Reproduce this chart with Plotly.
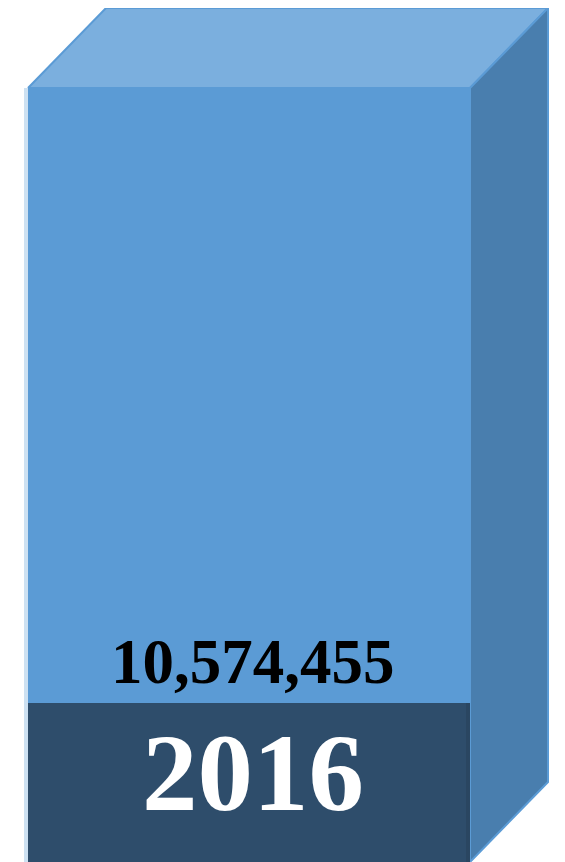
import plotly.graph_objects as go

# ---- data ----
years = ["2016"]
values = [10574455]

# ---- style constants ----
W, H = 565, 862
OFF = 8  # page body margin in the browser
FRONT = "#5B9BD5"
TOP = "#7BAFDE"
SIDE = "#497EAE"
BAND = "#2E4D6B"
EDGE = "#5B9BD5"

V = values[0]
# pixel geometry helpers (style only), in figure pixel coords
px_left, px_right, px_top, px_bottom = 28 - OFF, 470 - OFF, 88 - OFF, H - OFF
bar_w_px = px_right - px_left
unit_x = 1.0 / bar_w_px                 # x data units per pixel
unit_y = V / (px_bottom - px_top)       # y data units per pixel
depth_x = 78 * unit_x
depth_y = 80 * unit_y
x0, x1 = -0.5, 0.5
y_min = -(H - px_bottom) * unit_y       # axis bottom (below bar base)

fig = go.Figure()

# front face: the bar itself
fig.add_trace(go.Bar(x=[0], y=values, width=1, marker=dict(color=FRONT, line=dict(width=0)),
                     hoverinfo="skip", showlegend=False))

# top face
fig.add_trace(go.Scatter(
    x=[x0, x0 + depth_x, x1 + depth_x, x1, x0],
    y=[V, V + depth_y, V + depth_y, V, V],
    fill="toself", fillcolor=TOP, mode="lines",
    line=dict(color=EDGE, width=2), hoverinfo="skip", showlegend=False))

# right face
fig.add_trace(go.Scatter(
    x=[x1, x1 + depth_x, x1 + depth_x, x1, x1],
    y=[0, depth_y, V + depth_y, V, 0],
    fill="toself", fillcolor=SIDE, mode="lines",
    line=dict(color=EDGE, width=2), hoverinfo="skip", showlegend=False))

band_top = 159 * unit_y
shapes = [
    dict(type="rect", xref="x", yref="y", x0=x0, x1=x1, y0=0, y1=band_top,
         fillcolor=BAND, line=dict(width=0), layer="above"),
    dict(type="line", xref="x", yref="y", x0=x1 - 2 * unit_x, x1=x1 - 2 * unit_x, y0=0, y1=band_top,
         line=dict(color="#2A4661", width=4), layer="above"),
    # soft left shadow
    dict(type="line", xref="x", yref="y", x0=x0 - 2 * unit_x, x1=x0 - 2 * unit_x, y0=0, y1=V,
         line=dict(color="rgba(91,155,213,0.30)", width=4), layer="below"),
]

annotations = [
    dict(x=0.01, y=(px_bottom - (662 - OFF)) * unit_y, xref="x", yref="y",
         text="<b>{:,}</b>".format(V), showarrow=False,
         font=dict(family="Liberation Serif", size=63, color="black"),
         xanchor="center", yanchor="middle"),
    dict(x=0.01, y=(px_bottom - (772 - OFF)) * unit_y, xref="x", yref="y",
         text="<b>" + years[0] + "</b>", showarrow=False,
         font=dict(family="Liberation Serif", size=111, color="white"),
         xanchor="center", yanchor="middle"),
]

fig.update_layout(
    width=W, height=H, margin=dict(l=0, r=0, t=0, b=0),
    paper_bgcolor="white", plot_bgcolor="white",
    xaxis=dict(range=[x0 - px_left * unit_x, x0 + (W - px_left) * unit_x], visible=False, fixedrange=True),
    yaxis=dict(range=[y_min, y_min + H * unit_y], visible=False, fixedrange=True),
    shapes=shapes, annotations=annotations, hovermode=False, showlegend=False,
)

fig.write_html("out.html")
